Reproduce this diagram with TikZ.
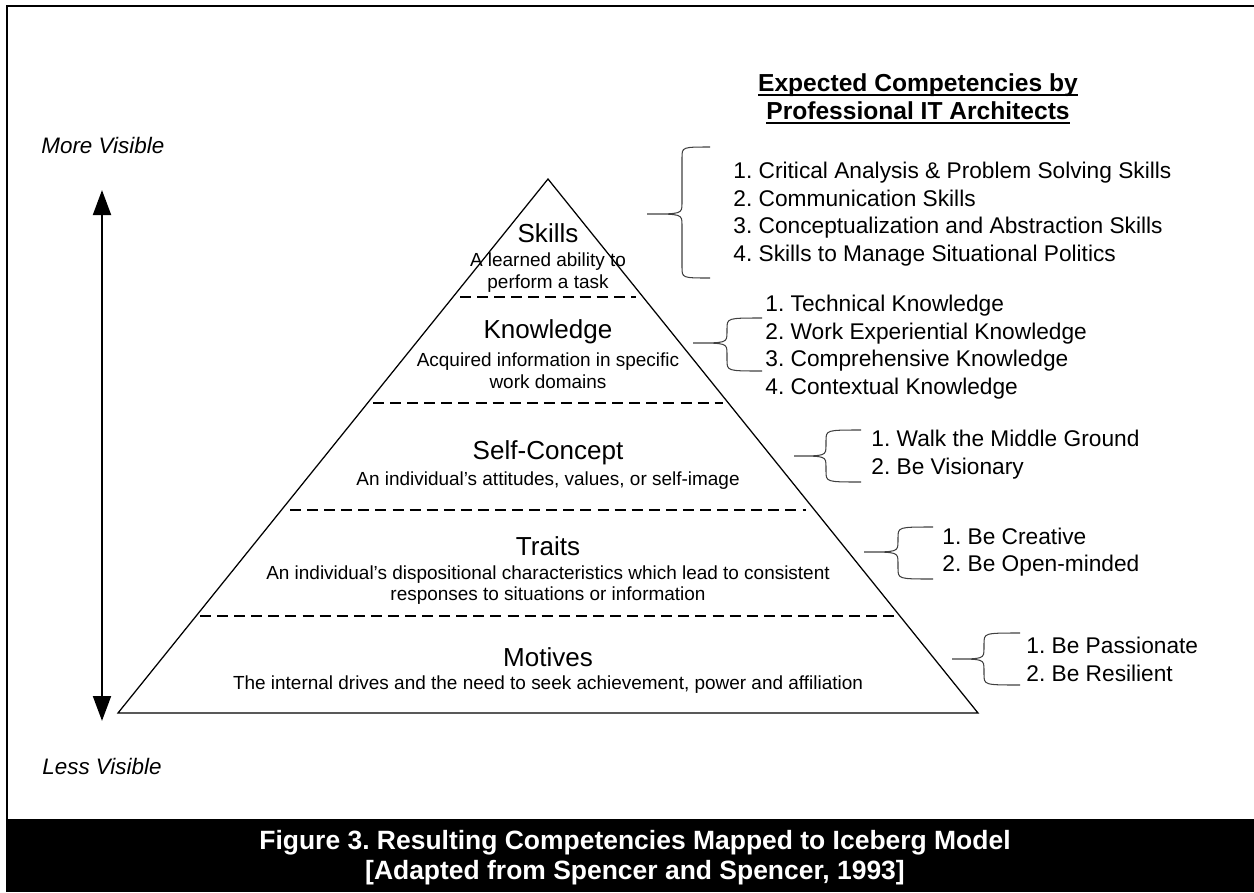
\documentclass[tikz,border=0pt]{standalone}
\usepackage{fontspec}
\setmainfont{Liberation Sans}
\usepackage{tikz}
\usetikzlibrary{
  arrows.meta,
  calc}
\frenchspacing

\newcommand{\ulhead}[1]{\setbox0\hbox{#1}\rlap{\rule[-2.2pt]{\wd0}{0.9pt}}\box0}
\newcommand{\compbrace}[6]{%
  \draw[bracestroke] (#3,#4) .. controls (#2,#4) .. (#2,#4+11)
    -- (#2,#5-11) .. controls (#2,#5) .. (#1,#5)
    .. controls (#2,#5) .. (#2,#5+11)
    -- (#2,#6-11) .. controls (#2,#6) .. (#3,#6);}

\tikzset{
  every node/.style={inner sep=0pt},
  layertitle/.style={font=\fontsize{12.5}{15}\selectfont},
  layerdesc/.style={font=\fontsize{9.1}{10.3}\selectfont, align=center},
  complist/.style={font=\fontsize{10.9}{13.2}\selectfont, align=left, anchor=west},
  sidelabel/.style={font=\fontsize{10.75}{13}\selectfont\itshape, anchor=west},
  heading/.style={font=\fontsize{11.8}{13.4}\selectfont\bfseries, align=center},
  captiontext/.style={font=\fontsize{12.7}{14.4}\selectfont\bfseries, align=center, text=white},
  layerline/.style={dash pattern=on 5.3pt off 2.9pt, line width=0.7pt},
  bracestroke/.style={line width=0.5pt, draw=black!75},
  visarrow/.style={line width=1.4pt, {Triangle[length=12pt,width=8.5pt]}-{Triangle[length=12pt,width=8.5pt]}}
}

\begin{document}
\begin{tikzpicture}[x=0.48pt,y=-0.48pt]
\useasboundingbox (0,0) rectangle (1254,892);

\draw[line width=1.2pt] (7,819) -- (7,6) -- (1254,6);
\fill[black] (6,819) rectangle (1254,892);
\node[captiontext] (caption) at (635,858)
  {Figure 3. Resulting Competencies Mapped to Iceberg Model\\{}[Adapted from Spencer and Spencer, 1993]};

\coordinate (apex) at (548,179);
\coordinate (baseR) at (978,713);
\coordinate (baseL) at (118,713);
\draw[line width=0.6pt] (apex) -- (baseR) -- (baseL) -- cycle;
\foreach \y/\w in {297/88,403/175,510/258,616/348}
  \draw[layerline] (548-\w,\y) -- (548+\w,\y);

\node[layertitle] (skillsTitle) at (548,233) {Skills};
\node[layerdesc] (skillsDesc) at (548,272.5) {A learned ability to\\perform a task};
\node[layertitle] (knowTitle) at (548,332) {Knowledge};
\node[layerdesc] (knowDesc) at (548,370.5) {Acquired information in specific\\work domains};
\node[layertitle] (selfTitle) at (548,453) {Self-Concept};
\node[layerdesc] (selfDesc) at (548,481) {An individual’s attitudes, values, or self-image};
\node[layertitle] (traitsTitle) at (548,546) {Traits};
\node[layerdesc] (traitsDesc) at (548,585) {An individual’s dispositional characteristics which lead to consistent\\responses to situations or information};
\node[layertitle] (motivesTitle) at (548,657) {Motives};
\node[layerdesc] (motivesDesc) at (548,685) {The internal drives and the need to seek achievement, power and affiliation};

\draw[visarrow] (102,190) -- (102,721);
\node[sidelabel] (moreVis) at (41,145) {More Visible};
\node[sidelabel] (lessVis) at (42,766) {Less Visible};

\node[heading] (compHead) at (918,99) {\ulhead{Expected Competencies by}\\\ulhead{Professional IT Architects}};

\node[complist] (skillsList) at (733,214) {1. Critical Analysis \& Problem Solving Skills\\2. Communication Skills\\3. Conceptualization and Abstraction Skills\\4. Skills to Manage Situational Politics};
\node[complist] (knowList) at (765,347) {1. Technical Knowledge\\2. Work Experiential Knowledge\\3. Comprehensive Knowledge\\4. Contextual Knowledge};
\node[complist] (selfList) at (871,454.5) {1. Walk the Middle Ground\\2. Be Visionary};
\node[complist] (traitsList) at (942,552) {1. Be Creative\\2. Be Open-minded};
\node[complist] (motivesList) at (1026,659.5) {1. Be Passionate\\2. Be Resilient};

\compbrace{647}{682}{710}{147}{214}{278}
\compbrace{693}{727}{762}{318}{343}{371}
\compbrace{794}{826}{861}{430}{456}{482}
\compbrace{864}{898}{933}{527}{552}{579}
\compbrace{952}{984}{1020}{633}{659}{685}

\end{tikzpicture}
\end{document}
